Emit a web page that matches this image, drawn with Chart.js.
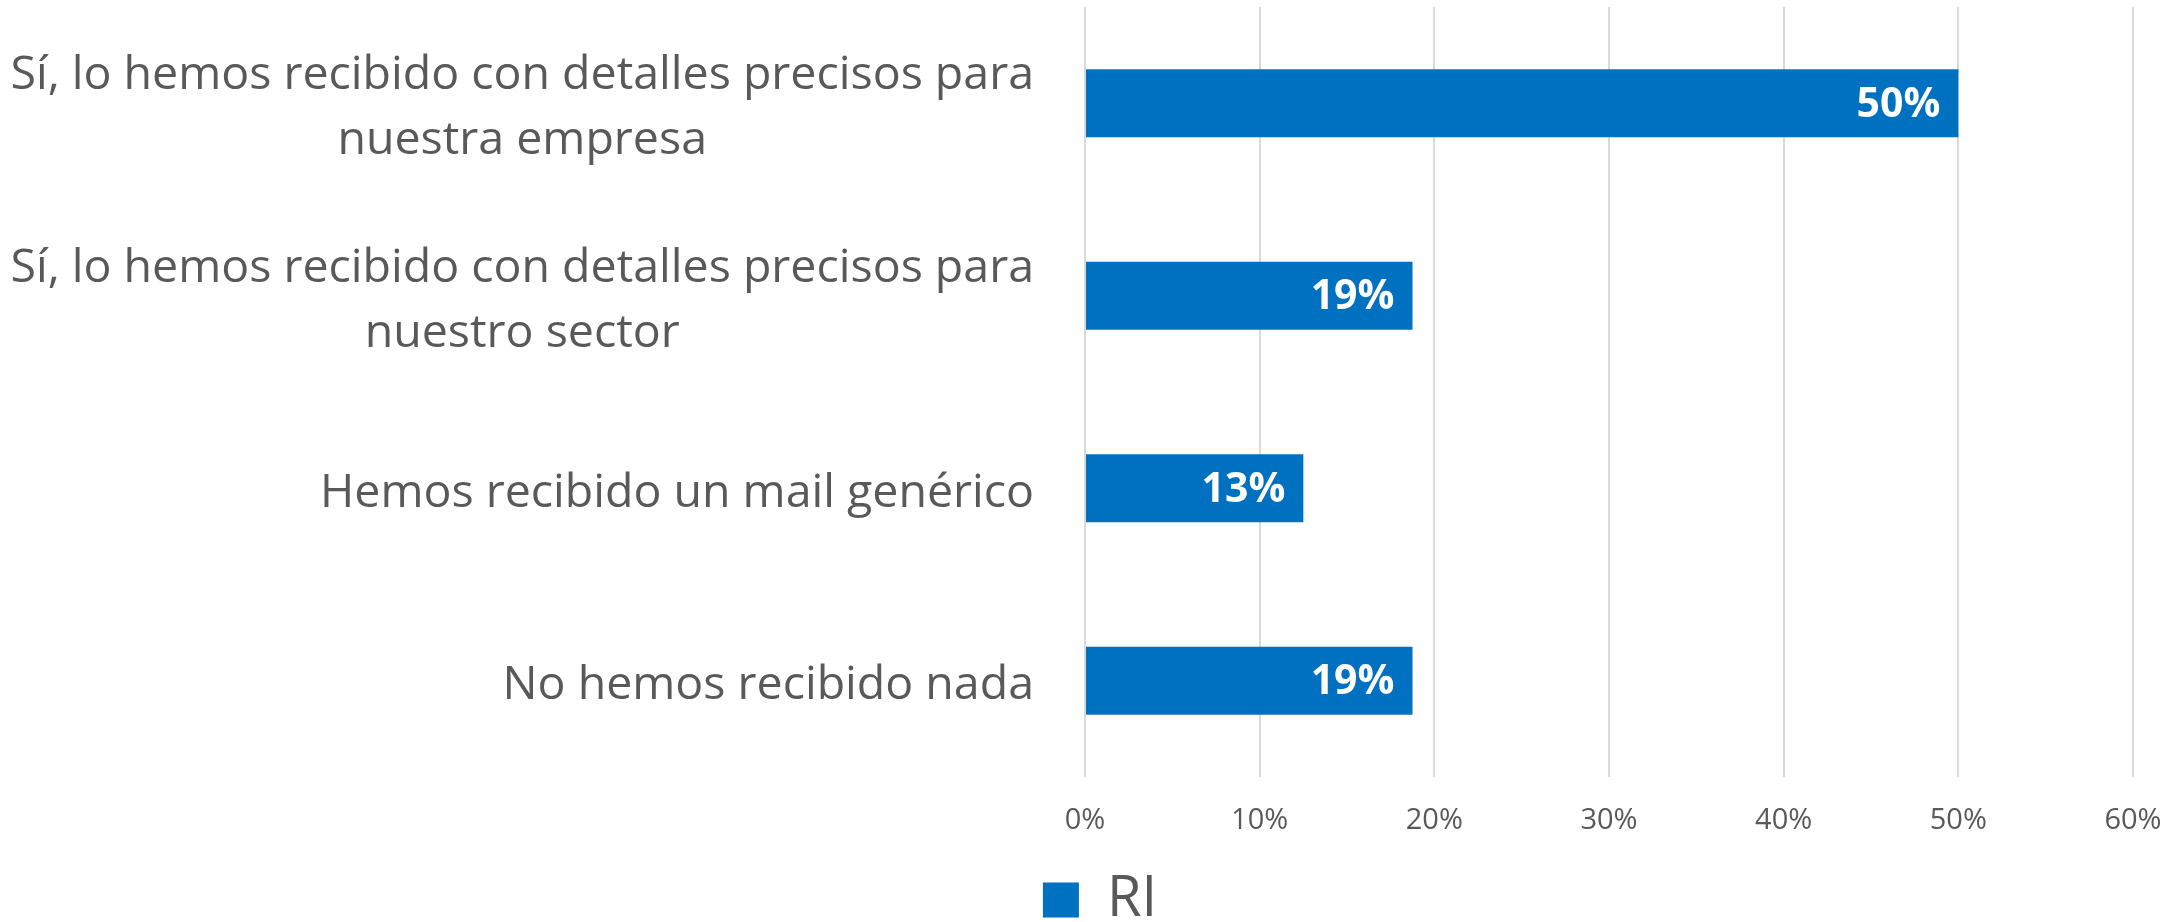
<!DOCTYPE html>
<html>
<head>
<meta charset="utf-8">
<script src="https://cdn.jsdelivr.net/npm/chart.js@4.4.1/dist/chart.umd.min.js"></script>
<style>
  html, body { margin: 0; padding: 0; background: #ffffff; }
</style>
</head>
<body>
<canvas id="c" width="2177" height="922"></canvas>
<script>
const categories = [
  ["Sí, lo hemos recibido con detalles precisos para", "nuestra empresa"],
  ["Sí, lo hemos recibido con detalles precisos para", "nuestro sector"],
  "Hemos recibido un mail genérico",
  "No hemos recibido nada"
];
const seriesName = "RI";
const seriesValues = [50, 18.75, 12.5, 18.75];
const xTickValues = [0, 10, 20, 30, 40, 50, 60];

const FONT = "'Open Sans'";
const TEXT = "#595959";
const BAR = "#0070C0";
const PAD_LEFT = 67;

const categoryLabelPlugin = {
  id: 'categoryLabels',
  afterDraw(chart) {
    const ctx = chart.ctx;
    const yScale = chart.scales.y;
    const xRight = chart.chartArea.left - 51;
    const lineH = 65;
    ctx.save();
    ctx.font = "46.5px " + FONT;
    ctx.fillStyle = TEXT;
    ctx.textAlign = 'center';
    ctx.textBaseline = 'middle';
    categories.forEach((lab, i) => {
      const lines = Array.isArray(lab) ? lab : [lab];
      const w = Math.max(...lines.map(l => ctx.measureText(l).width));
      const cx = xRight - w / 2;
      const cy = yScale.getPixelForTick(i) + 5;
      const y0 = cy - (lines.length - 1) * lineH / 2;
      lines.forEach((l, k) => ctx.fillText(l, cx, y0 + k * lineH));
    });
    ctx.restore();
  }
};

const dataLabelPlugin = {
  id: 'dataLabels',
  afterDatasetsDraw(chart) {
    const ctx = chart.ctx;
    const meta = chart.getDatasetMeta(0);
    ctx.save();
    ctx.font = "bold 41px " + FONT;
    ctx.fillStyle = "#ffffff";
    ctx.textAlign = 'right';
    ctx.textBaseline = 'middle';
    meta.data.forEach((bar, i) => {
      ctx.fillText(Math.round(seriesValues[i]) + "%", bar.x - 18, bar.y + 2);
    });
    ctx.restore();
  }
};

new Chart(document.getElementById('c'), {
  type: 'bar',
  data: {
    labels: categories,
    datasets: [{
      label: seriesName,
      data: seriesValues,
      backgroundColor: BAR,
      borderWidth: 0,
      categoryPercentage: 1,
      barPercentage: 0.353
    }]
  },
  options: {
    indexAxis: 'y',
    responsive: false,
    animation: false,
    devicePixelRatio: 1,
    layout: { padding: { left: PAD_LEFT, right: 44, top: 7, bottom: 0 } },
    scales: {
      x: {
        min: 0, max: 60,
        afterBuildTicks(scale) { scale.ticks = xTickValues.map(v => ({ value: v })); },
        afterFit(scale) { scale.height = 95; scale.paddingLeft = 0; scale.paddingRight = 0; },
        grid: { color: "#d9d9d9", lineWidth: 2, drawTicks: false },
        border: { display: false },
        ticks: {
          padding: 26,
          color: TEXT,
          font: { family: FONT, size: 29 },
          callback: v => v + "%"
        }
      },
      y: {
        afterFit(scale) { scale.width = 1085 - PAD_LEFT; },
        grid: { display: false },
        border: { display: false },
        ticks: { display: false }
      }
    },
    plugins: {
      legend: {
        position: 'bottom',
        maxHeight: 50,
        labels: {
          boxWidth: 36,
          boxHeight: 35,
          padding: 0,
          color: TEXT,
          font: { family: FONT, size: 56 }
        }
      },
      tooltip: { enabled: false }
    }
  },
  plugins: [categoryLabelPlugin, dataLabelPlugin]
});
</script>
</body>
</html>
